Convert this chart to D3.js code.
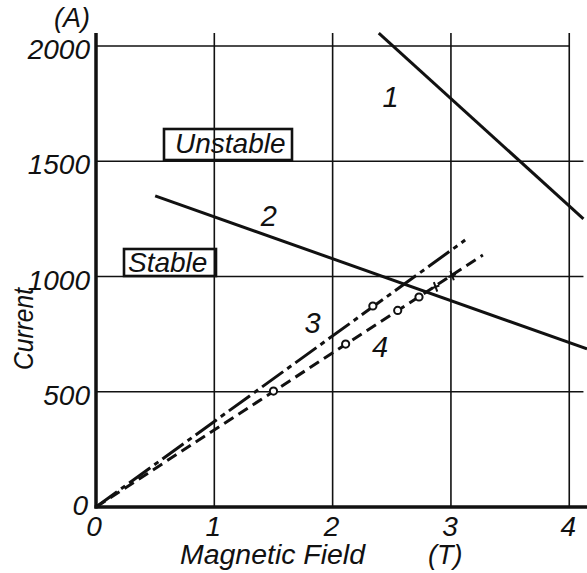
<!DOCTYPE html>
<html>
<head>
<meta charset="utf-8">
<script src="https://cdn.jsdelivr.net/npm/d3@7"></script>
<style>
  html, body { margin: 0; padding: 0; background: #fff; }
  svg { display: block; }
  text { font-family: "Liberation Sans", Arial, sans-serif; font-style: italic; fill: #111; }
</style>
</head>
<body>
<svg id="chart" width="587" height="573"></svg>
<script>
// ---- data ----
const xTicks = [0, 1, 2, 3, 4];
const yTicks = [0, 500, 1000, 1500, 2000];
const xTickLabels = ["0", "1", "2", "3", "4"];
const yTickLabels = ["0", "500", "1000", "1500", "2000"];
const line1 = [[2.39, 2056], [4.12, 1250]];
const line2 = [[0.5, 1350], [4.15, 686]];
const line3 = [[0, 0], [3.12, 1158]];
const line4 = [[0, 0], [3.27, 1093]];
const line3Circles = [[2.34, 872]];
const line4Circles = [[1.5, 503], [2.11, 707], [2.55, 853], [2.73, 911]];
const line4Crosses = [[2.87, 955], [3.01, 1004]];
const curveLabels = ["1", "2", "3", "4"];
const curveLabelPos = [[2.49, 1735], [1.46, 1220], [1.83, 755], [2.40, 650]];

const svg = d3.select("#chart");
const x = d3.scaleLinear().domain([0, 4.15]).range([96, 587]);
const y = d3.scaleLinear().domain([0, 2000]).range([507, 46]);
const ink = "#111";
const yTop = 2056;

// grid: vertical
svg.append("g").selectAll("line").data(xTicks.slice(1)).join("line")
  .attr("x1", d => x(d)).attr("x2", d => x(d))
  .attr("y1", y(yTop)).attr("y2", y(0))
  .attr("stroke", ink).attr("stroke-width", 1.6);
// grid: horizontal
svg.append("g").selectAll("line").data(yTicks.slice(1)).join("line")
  .attr("x1", x(0)).attr("x2", d => d === 2000 ? x(4) : x(4.12))
  .attr("y1", d => y(d)).attr("y2", d => y(d))
  .attr("stroke", ink).attr("stroke-width", 1.6);

// axes frame
svg.append("line").attr("x1", x(0)).attr("x2", x(0)).attr("y1", y(yTop)).attr("y2", y(0) + 1.5)
  .attr("stroke", ink).attr("stroke-width", 3.5);
svg.append("line").attr("x1", x(0) - 1.5).attr("x2", 587).attr("y1", y(0)).attr("y2", y(0))
  .attr("stroke", ink).attr("stroke-width", 3.5);

const lineGen = d3.line().x(d => x(d[0])).y(d => y(d[1]));

svg.append("path").attr("d", lineGen(line1)).attr("fill", "none").attr("stroke", ink).attr("stroke-width", 3);
svg.append("path").attr("d", lineGen(line2)).attr("fill", "none").attr("stroke", ink).attr("stroke-width", 3);
svg.append("path").attr("d", lineGen(line3)).attr("fill", "none").attr("stroke", ink).attr("stroke-width", 3)
  .attr("stroke-dasharray", "26,5,5,5");
svg.append("path").attr("d", lineGen(line4)).attr("fill", "none").attr("stroke", ink).attr("stroke-width", 3)
  .attr("stroke-dasharray", "11,6");

// markers
svg.append("g").selectAll("circle").data(line3Circles.concat(line4Circles)).join("circle")
  .attr("cx", d => x(d[0])).attr("cy", d => y(d[1])).attr("r", 3.6)
  .attr("fill", "#fff").attr("stroke", ink).attr("stroke-width", 2);
svg.append("g").selectAll("path").data(line4Crosses).join("path")
  .attr("transform", d => `translate(${x(d[0])},${y(d[1])}) rotate(-20)`)
  .attr("d", "M-4,0H4M0,-5V5").attr("stroke", ink).attr("stroke-width", 2).attr("fill", "none");

// tick labels
svg.append("g").selectAll("text").data(yTicks).join("text")
  .attr("x", d => d === 0 ? 88 : 90)
  .attr("y", d => d === 0 ? y(d) + 8 : y(d) + 13)
  .attr("text-anchor", "end").attr("font-size", 28)
  .text((d, i) => yTickLabels[i]);
svg.append("g").selectAll("text").data(xTicks).join("text")
  .attr("x", d => x(d) - (d === 0 ? 2 : 1))
  .attr("y", 536)
  .attr("text-anchor", "middle").attr("font-size", 28)
  .text((d, i) => xTickLabels[i]);

// axis titles
svg.append("text").attr("x", 90).attr("y", 27).attr("text-anchor", "end").attr("font-size", 27).text("(A)");
svg.append("text").attr("transform", "translate(33,329) rotate(-90)").attr("text-anchor", "middle")
  .attr("font-size", 27).attr("textLength", 82).attr("lengthAdjust", "spacingAndGlyphs").text("Current");
svg.append("text").attr("x", 180).attr("y", 564).attr("font-size", 27)
  .attr("textLength", 185).attr("lengthAdjust", "spacingAndGlyphs").text("Magnetic Field");
svg.append("text").attr("x", 428).attr("y", 564).attr("font-size", 27).text("(T)");

// curve labels
svg.append("g").selectAll("text").data(curveLabelPos).join("text")
  .attr("x", d => x(d[0])).attr("y", d => y(d[1]))
  .attr("text-anchor", "middle").attr("font-size", 29)
  .text((d, i) => curveLabels[i]);

// region boxes
function box(x0, y0, x1, y1, label, tx, ty) {
  svg.append("rect").attr("x", x0).attr("y", y0).attr("width", x1 - x0).attr("height", y1 - y0)
    .attr("fill", "none").attr("stroke", ink).attr("stroke-width", 2.6);
  svg.append("text").attr("x", tx).attr("y", ty).attr("font-size", 28).text(label);
}
box(164, 129, 292, 160, "Unstable", 175, 153);
box(124, 249, 216, 276, "Stable", 128, 272);
</script>
</body>
</html>
